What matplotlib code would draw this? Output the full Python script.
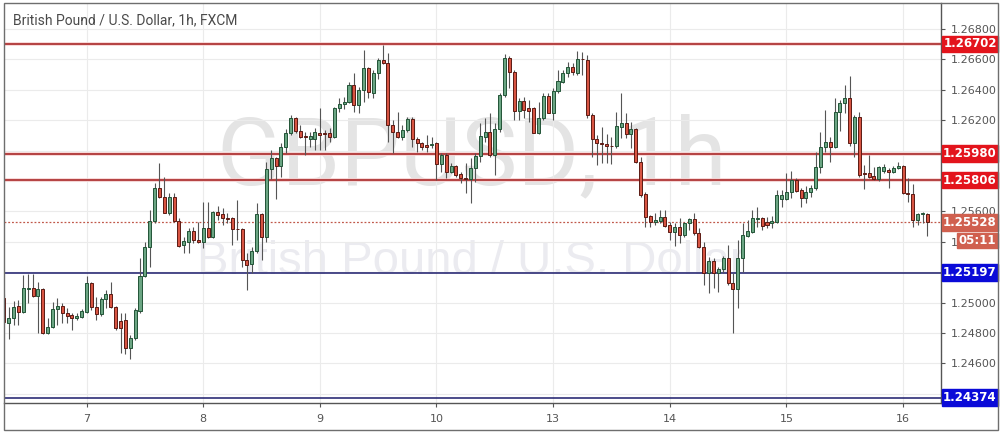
import numpy as np
import matplotlib.pyplot as plt
from matplotlib.patches import Rectangle
import matplotlib.transforms as mtransforms

# hourly GBP/USD candles
opens = [1.25030, 1.24866, 1.24899, 1.24978, 1.24938, 1.25089, 1.25096, 1.25043, 1.25089, 1.24800,
         1.24839, 1.24958, 1.24978, 1.24932, 1.24918, 1.24899, 1.24905, 1.24938, 1.25129, 1.24971,
         1.24925, 1.25024, 1.25056, 1.24971, 1.24879, 1.24885, 1.24701, 1.24767, 1.24945, 1.25175,
         1.25366, 1.25537, 1.25754, 1.25695, 1.25589, 1.25695, 1.25537, 1.25379, 1.25399, 1.25471,
         1.25412, 1.25399, 1.25491, 1.25432, 1.25596, 1.25583, 1.25556, 1.25556, 1.25484, 1.25484,
         1.25280, 1.25254, 1.25339, 1.25583, 1.25432, 1.25879, 1.25951, 1.25899, 1.26024, 1.26116,
         1.26214, 1.26129, 1.26096, 1.26076, 1.26076, 1.26116, 1.26116, 1.26116, 1.26089, 1.26280,
         1.26307, 1.26320, 1.26432, 1.26300, 1.26399, 1.26544, 1.26379, 1.26511, 1.26596, 1.26576,
         1.26169, 1.26122, 1.26089, 1.26136, 1.26208, 1.26076, 1.26050, 1.26037, 1.26037, 1.26050,
         1.25912, 1.25971, 1.25859, 1.25899, 1.25846, 1.25820, 1.25813, 1.25885, 1.25964, 1.26089,
         1.26122, 1.25971, 1.26142, 1.26366, 1.26609, 1.26517, 1.26260, 1.26326, 1.26280, 1.26280,
         1.26116, 1.26214, 1.26359, 1.26247, 1.26392, 1.26451, 1.26511, 1.26550, 1.26511, 1.26603,
         1.26596, 1.26234, 1.26076, 1.26050, 1.26043, 1.26030, 1.26030, 1.26155, 1.26182, 1.26109,
         1.26142, 1.25925, 1.25714, 1.25570, 1.25530, 1.25537, 1.25563, 1.25510, 1.25464, 1.25497,
         1.25445, 1.25524, 1.25550, 1.25458, 1.25366, 1.25195, 1.25274, 1.25195, 1.25221, 1.25293,
         1.25129, 1.25089, 1.25293, 1.25438, 1.25464, 1.25550, 1.25556, 1.25530, 1.25524, 1.25530,
         1.25682, 1.25682, 1.25728, 1.25807, 1.25741, 1.25688, 1.25728, 1.25754, 1.25892, 1.26024,
         1.26057, 1.26024, 1.26254, 1.26313, 1.26346, 1.26050, 1.26221, 1.25853, 1.25853, 1.25833,
         1.25813, 1.25866, 1.25872, 1.25859, 1.25885, 1.25899, 1.25721, 1.25714, 1.25543, 1.25583,
         1.25583]
highs = [1.25056, 1.24971, 1.25010, 1.25017, 1.25181, 1.25188, 1.25188, 1.25135, 1.25096, 1.24899,
         1.25004, 1.25030, 1.24997, 1.24964, 1.24932, 1.24932, 1.24958, 1.25175, 1.25135, 1.25037,
         1.25037, 1.25083, 1.25135, 1.24978, 1.24932, 1.24932, 1.24787, 1.24964, 1.25293, 1.25399,
         1.25609, 1.25787, 1.25918, 1.25826, 1.25721, 1.25721, 1.25556, 1.25432, 1.25491, 1.25497,
         1.25530, 1.25662, 1.25662, 1.25603, 1.25635, 1.25622, 1.25589, 1.25563, 1.25675, 1.25491,
         1.25326, 1.25366, 1.25655, 1.25589, 1.25925, 1.26004, 1.25958, 1.26050, 1.26142, 1.26234,
         1.26221, 1.26168, 1.26122, 1.26122, 1.26149, 1.26280, 1.26135, 1.26149, 1.26287, 1.26346,
         1.26353, 1.26451, 1.26511, 1.26419, 1.26662, 1.26550, 1.26530, 1.26609, 1.26695, 1.26642,
         1.26201, 1.26254, 1.26169, 1.26221, 1.26221, 1.26089, 1.26057, 1.26103, 1.26089, 1.26057,
         1.25984, 1.25984, 1.25918, 1.25905, 1.25859, 1.25918, 1.25951, 1.25984, 1.26182, 1.26214,
         1.26247, 1.26182, 1.26379, 1.26636, 1.26622, 1.26530, 1.26346, 1.26353, 1.26333, 1.26287,
         1.26320, 1.26379, 1.26379, 1.26412, 1.26530, 1.26530, 1.26583, 1.26576, 1.26655, 1.26649,
         1.26629, 1.26247, 1.26103, 1.26155, 1.26109, 1.26089, 1.26254, 1.26379, 1.26247, 1.26188,
         1.26149, 1.25958, 1.25728, 1.25576, 1.25589, 1.25609, 1.25609, 1.25530, 1.25524, 1.25556,
         1.25530, 1.25556, 1.25589, 1.25491, 1.25399, 1.25300, 1.25293, 1.25234, 1.25307, 1.25379,
         1.25195, 1.25412, 1.25524, 1.25543, 1.25609, 1.25629, 1.25563, 1.25563, 1.25570, 1.25741,
         1.25741, 1.25853, 1.25866, 1.25820, 1.25754, 1.25767, 1.25774, 1.25991, 1.26122, 1.26267,
         1.26089, 1.26346, 1.26333, 1.26432, 1.26491, 1.26234, 1.26254, 1.25905, 1.25971, 1.25892,
         1.25899, 1.25912, 1.25885, 1.25899, 1.25925, 1.25905, 1.25820, 1.25780, 1.25589, 1.25596,
         1.25589]
lows = [1.24859, 1.24760, 1.24852, 1.24852, 1.24932, 1.24997, 1.25037, 1.24800, 1.24793, 1.24793,
        1.24833, 1.24852, 1.24866, 1.24866, 1.24820, 1.24885, 1.24899, 1.24932, 1.24951, 1.24885,
        1.24912, 1.24964, 1.24964, 1.24820, 1.24668, 1.24662, 1.24629, 1.24754, 1.24932, 1.25168,
        1.25234, 1.25524, 1.25688, 1.25589, 1.25576, 1.25530, 1.25366, 1.25326, 1.25326, 1.25392,
        1.25392, 1.25359, 1.25425, 1.25425, 1.25543, 1.25510, 1.25524, 1.25379, 1.25412, 1.25234,
        1.25083, 1.25195, 1.25326, 1.25280, 1.25399, 1.25813, 1.25682, 1.25826, 1.25984, 1.26103,
        1.26116, 1.26083, 1.25971, 1.26024, 1.26004, 1.26004, 1.26004, 1.26056, 1.26083, 1.26254,
        1.26274, 1.26313, 1.26254, 1.26247, 1.26320, 1.26346, 1.26346, 1.26471, 1.26570, 1.26057,
        1.25984, 1.26083, 1.26070, 1.26122, 1.26024, 1.25991, 1.26004, 1.25991, 1.26017, 1.25807,
        1.25859, 1.25820, 1.25853, 1.25826, 1.25787, 1.25721, 1.25655, 1.25793, 1.25925, 1.26057,
        1.25958, 1.25839, 1.26122, 1.26353, 1.26412, 1.26201, 1.26201, 1.26214, 1.26188, 1.26116,
        1.26109, 1.26201, 1.26247, 1.26201, 1.26379, 1.26445, 1.26484, 1.26497, 1.26497, 1.26497,
        1.26214, 1.25958, 1.25905, 1.25918, 1.25918, 1.25912, 1.26017, 1.26083, 1.26083, 1.26017,
        1.25918, 1.25695, 1.25497, 1.25497, 1.25510, 1.25524, 1.25497, 1.25412, 1.25372, 1.25392,
        1.25432, 1.25478, 1.25445, 1.25359, 1.25116, 1.25063, 1.25096, 1.25070, 1.25195, 1.25116,
        1.24800, 1.24964, 1.25201, 1.25432, 1.25458, 1.25497, 1.25478, 1.25491, 1.25491, 1.25524,
        1.25629, 1.25675, 1.25688, 1.25728, 1.25629, 1.25655, 1.25695, 1.25741, 1.25853, 1.25991,
        1.25925, 1.26017, 1.26129, 1.26247, 1.26030, 1.25958, 1.25826, 1.25747, 1.25820, 1.25807,
        1.25800, 1.25853, 1.25754, 1.25853, 1.25879, 1.25714, 1.25662, 1.25497, 1.25510, 1.25524,
        1.25438]
closes = [1.24872, 1.24899, 1.24971, 1.24938, 1.25096, 1.25096, 1.25043, 1.25089, 1.24800, 1.24839,
          1.24958, 1.24978, 1.24932, 1.24912, 1.24899, 1.24912, 1.24945, 1.25129, 1.24971, 1.24925,
          1.25024, 1.25056, 1.24971, 1.24833, 1.24833, 1.24701, 1.24767, 1.24951, 1.25175, 1.25366,
          1.25537, 1.25754, 1.25695, 1.25589, 1.25695, 1.25537, 1.25372, 1.25405, 1.25471, 1.25412,
          1.25399, 1.25491, 1.25432, 1.25596, 1.25576, 1.25556, 1.25553, 1.25484, 1.25481, 1.25280,
          1.25247, 1.25339, 1.25583, 1.25432, 1.25879, 1.25951, 1.25899, 1.26024, 1.26116, 1.26214,
          1.26129, 1.26089, 1.26089, 1.26096, 1.26122, 1.26103, 1.26109, 1.26089, 1.26280, 1.26307,
          1.26320, 1.26432, 1.26300, 1.26399, 1.26544, 1.26386, 1.26511, 1.26596, 1.26576, 1.26169,
          1.26122, 1.26089, 1.26136, 1.26208, 1.26076, 1.26050, 1.26024, 1.26024, 1.26043, 1.25912,
          1.25971, 1.25859, 1.25899, 1.25839, 1.25820, 1.25813, 1.25885, 1.25964, 1.26096, 1.26122,
          1.25971, 1.26142, 1.26366, 1.26609, 1.26517, 1.26260, 1.26326, 1.26267, 1.26260, 1.26116,
          1.26214, 1.26359, 1.26247, 1.26392, 1.26458, 1.26511, 1.26550, 1.26517, 1.26603, 1.26600,
          1.26234, 1.26076, 1.26050, 1.26043, 1.26030, 1.26027, 1.26162, 1.26182, 1.26109, 1.26142,
          1.25925, 1.25708, 1.25563, 1.25530, 1.25543, 1.25563, 1.25504, 1.25464, 1.25497, 1.25445,
          1.25524, 1.25550, 1.25458, 1.25366, 1.25195, 1.25274, 1.25195, 1.25221, 1.25293, 1.25129,
          1.25089, 1.25293, 1.25445, 1.25471, 1.25556, 1.25556, 1.25504, 1.25510, 1.25537, 1.25708,
          1.25708, 1.25728, 1.25807, 1.25734, 1.25688, 1.25728, 1.25754, 1.25892, 1.26024, 1.26057,
          1.26024, 1.26254, 1.26313, 1.26346, 1.26050, 1.26221, 1.25839, 1.25846, 1.25826, 1.25813,
          1.25892, 1.25892, 1.25859, 1.25885, 1.25899, 1.25721, 1.25714, 1.25543, 1.25583, 1.25589,
          1.25528]

day_labels = ["7", "8", "9", "10", "13", "14", "15", "16"]
day_bars = [17, 41, 65, 89, 113, 137, 161, 185]

price_ticks = [1.244, 1.246, 1.248, 1.250, 1.252, 1.254, 1.256, 1.258, 1.260, 1.262, 1.264, 1.266, 1.268]
# scale labels that sit fully under a level marker are not visible
hidden_ticks = [1.244, 1.252, 1.258, 1.260]
resistance = [1.26702, 1.25980, 1.25806]
support = [1.25197, 1.24374]
last_price = 1.25528
countdown = "05:11"

title = "British Pound / U.S. Dollar, 1h, FXCM"

o = np.array(opens)
h = np.array(highs)
l = np.array(lows)
c = np.array(closes)
x = np.arange(len(o))

fig = plt.figure(figsize=(10.04, 4.34), dpi=100)
ax = fig.add_axes([4/1004, 31/434, 937/1004, 400/434])

# watermark
ax.text(0.499, 0.612, "GBPUSD, 1h", transform=ax.transAxes, ha="center", va="center",
        fontsize=68, color="#e4e4e4", family="Roboto", zorder=0)
ax.text(0.499, 0.352, "British Pound / U.S. Dollar", transform=ax.transAxes, ha="center", va="center",
        fontsize=34, color="#ebebf0", family="Liberation Sans", zorder=0)

# grid
for p in price_ticks:
    ax.axhline(p, color="#ebebeb", lw=0.8, zorder=0.5)
for d in day_bars:
    ax.axvline(d, color="#ebebeb", lw=0.8, zorder=0.5)

# levels
for p in resistance:
    ax.axhline(p, color="#f7d2d2", lw=2.6, zorder=1)
    ax.axhline(p, color="#a31b1b", lw=1.1, zorder=1.1)
for p in support:
    ax.axhline(p, color="#1b1b6b", lw=1.1, zorder=1.1)
ax.axhline(last_price, color="#c0584a", lw=0.9, ls=(0, (1.5, 1.5)), zorder=1.2)

# candles
up = c >= o
body_col = np.where(up, "#6ba583", "#d75442")
edge_col = np.where(up, "#225437", "#5b1a13")
ax.vlines(x, l, h, color="#555555", lw=0.8, zorder=3)
body_h = np.maximum(np.abs(c - o), 0.00003)
ax.bar(x, body_h, bottom=np.minimum(o, c), width=0.62, color=body_col,
       edgecolor=edge_col, linewidth=0.7, zorder=4)

ax.set_xlim(0.02, 192.8)
ax.set_ylim(1.24339, 1.26971)

ax.set_xticks(day_bars)
ax.set_xticklabels(day_labels)
ax.yaxis.tick_right()
ax.set_yticks(price_ticks)
ax.set_yticklabels(["" if p in hidden_ticks else "%.5f" % p for p in price_ticks])
ax.tick_params(axis="y", length=3, color="#555555", labelsize=8, labelcolor="#555555", pad=4)
ax.tick_params(axis="x", length=3, color="#555555", labelsize=8, labelcolor="#555555", pad=5)
for s in ["left", "top"]:
    ax.spines[s].set_visible(False)
for s in ["right", "bottom"]:
    ax.spines[s].set_color("#555555")
    ax.spines[s].set_linewidth(1)

# price labels on the right scale
tr = mtransforms.blended_transform_factory(ax.transAxes, ax.transData)
px = 0.0000658
def price_box(p, text, color, x0=1.001, x1=1.0608, hgt=16.5):
    ax.add_patch(Rectangle((x0, p - hgt/2*px), x1 - x0, hgt*px, transform=tr,
                           color=color, clip_on=False, zorder=10))
    ax.text((x0 + x1)/2, p, text, transform=tr, ha="center", va="center", color="white",
            fontsize=8.5, fontweight="bold", clip_on=False, zorder=11)

for p in resistance:
    price_box(p, "%.5f" % p, "#e3141c")
for p in support:
    price_box(p, "%.5f" % p, "#0a0ad8")
price_box(last_price, "%.5f" % last_price, "#d0604f")
price_box(last_price - 18*px, countdown, "#d0604f", x0=1.0171, hgt=15)

fig.text(13/1004, 1 - 20/434, title, fontsize=10, color="#4a4a4a", va="center", family="Roboto")

fig.patches.append(Rectangle((4/1004, 4/434), 994/1004, 427/434, transform=fig.transFigure,
                             fill=False, edgecolor="#6e6e6e", lw=1))

fig.savefig("out.png", dpi=100)
